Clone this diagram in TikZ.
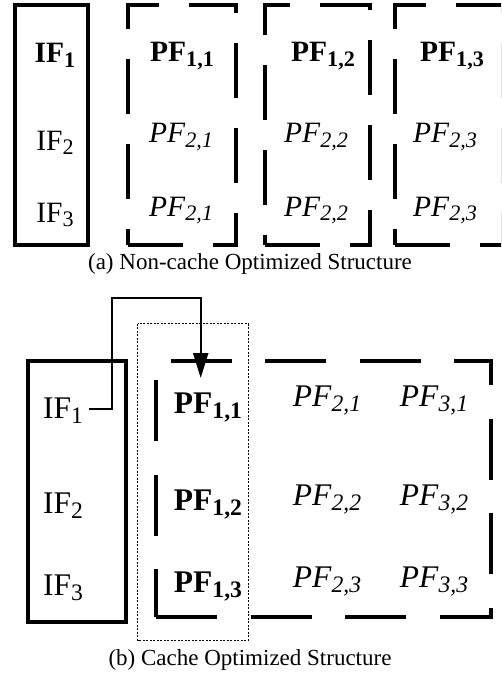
\documentclass[tikz,border=0pt]{standalone}
\usepackage{fontspec}
\setmainfont{Liberation Serif}
\usepackage{graphicx}
\usetikzlibrary{arrows.meta}
\newcommand{\lsub}[1]{\raisebox{-0.16em}{\scalebox{0.75}{#1}}}
\begin{document}
\begin{tikzpicture}[x=1pt,y=-1pt,
  lbla/.style={font=\fontsize{29.5}{31}\selectfont, inner sep=0pt, anchor=base},
  lblb/.style={font=\fontsize{31.5}{33}\selectfont, inner sep=0pt, anchor=base},
  captext/.style={font=\fontsize{23}{25}\selectfont, inner sep=0pt, anchor=base},
  solidbox/.style={draw, line width=3.2pt, line join=miter},
  dashbox/.style={draw, line width=3.2pt, dash pattern=on 55pt off 30pt, line join=miter},
  dashboxb/.style={draw, line width=3.4pt, dash pattern=on 61pt off 33.5pt, line join=miter},
  dotbox/.style={draw, line width=1.3pt, dash pattern=on 2pt off 1.5pt},
  link/.style={draw, line width=2.2pt, -{Triangle[length=25pt,width=15pt]}}
]
\useasboundingbox (0,0) rectangle (501,679);
\clip (0,0) rectangle (501,679);

% ---------- (a) ----------
\draw[solidbox] (15,5) rectangle (88,245);
\draw[dashbox] (128,245) -- (236,245) -- (236,5) -- (128,5) -- cycle;
\draw[dashbox] (265,245) -- (370,245) -- (370,5) -- (265,5) -- cycle;
\draw[dashbox] (395,245) -- (503,245) -- (503,5) -- (395,5) -- cycle;

\node[lbla] (IFa1) at (55,63) {\textbf{IF}\lsub{\textbf{1}}};
\node[lbla] (IFa2) at (55,150) {IF\lsub{2}};
\node[lbla] (IFa3) at (55,222) {IF\lsub{3}};

\node[lbla] (PFa11) at (182,62) {\textbf{PF}\lsub{\textbf{1,1}}};
\node[lbla] (PFa21) at (181,143) {\textit{PF}\lsub{\textit{2,1}}};
\node[lbla] (PFa31) at (181,216) {\textit{PF}\lsub{\textit{2,1}}};

\node[lbla] (PFa12) at (323,62) {\textbf{PF}\lsub{\textbf{1,2}}};
\node[lbla] (PFa22) at (316,143) {\textit{PF}\lsub{\textit{2,2}}};
\node[lbla] (PFa32) at (316,216) {\textit{PF}\lsub{\textit{2,2}}};

\node[lbla] (PFa13) at (452,62) {\textbf{PF}\lsub{\textbf{1,3}}};
\node[lbla] (PFa23) at (445,143) {\textit{PF}\lsub{\textit{2,3}}};
\node[lbla] (PFa33) at (445,216) {\textit{PF}\lsub{\textit{2,3}}};

\node[captext] (capa) at (250,269) {(a) Non-cache Optimized Structure};

% ---------- (b) ----------
\draw[solidbox] (28,361) rectangle (126,622);
\draw[dashboxb] (156,617) -- (491,617) -- (491,361) -- (156,361) -- cycle;
\draw[dotbox] (137.5,323.7) rectangle (248.3,640.3);

\node[lblb] (IFb1) at (63,418) {IF\lsub{1}};
\node[lblb] (IFb2) at (63,513) {IF\lsub{2}};
\node[lblb] (IFb3) at (63,595) {IF\lsub{3}};

\node[lblb] (PFb11) at (208,413) {\textbf{PF}\lsub{\textbf{1,1}}};
\node[lblb] (PFb12) at (208,510) {\textbf{PF}\lsub{\textbf{1,2}}};
\node[lblb] (PFb13) at (208,592) {\textbf{PF}\lsub{\textbf{1,3}}};

\node[lblb] (PFb21) at (327,406) {\textit{PF}\lsub{\textit{2,1}}};
\node[lblb] (PFb22) at (327,505) {\textit{PF}\lsub{\textit{2,2}}};
\node[lblb] (PFb23) at (327,587) {\textit{PF}\lsub{\textit{2,3}}};

\node[lblb] (PFb31) at (434,406) {\textit{PF}\lsub{\textit{3,1}}};
\node[lblb] (PFb32) at (434,505) {\textit{PF}\lsub{\textit{3,2}}};
\node[lblb] (PFb33) at (434,587) {\textit{PF}\lsub{\textit{3,3}}};

\coordinate (bend) at (112,298);
\coordinate (tip) at (200.7,378);
\draw[link] ([shift={(6pt,9pt)}]IFb1.base east) -| (bend) -| (tip);

\node[captext] (capb) at (250,665) {(b) Cache Optimized Structure};
\end{tikzpicture}
\end{document}
